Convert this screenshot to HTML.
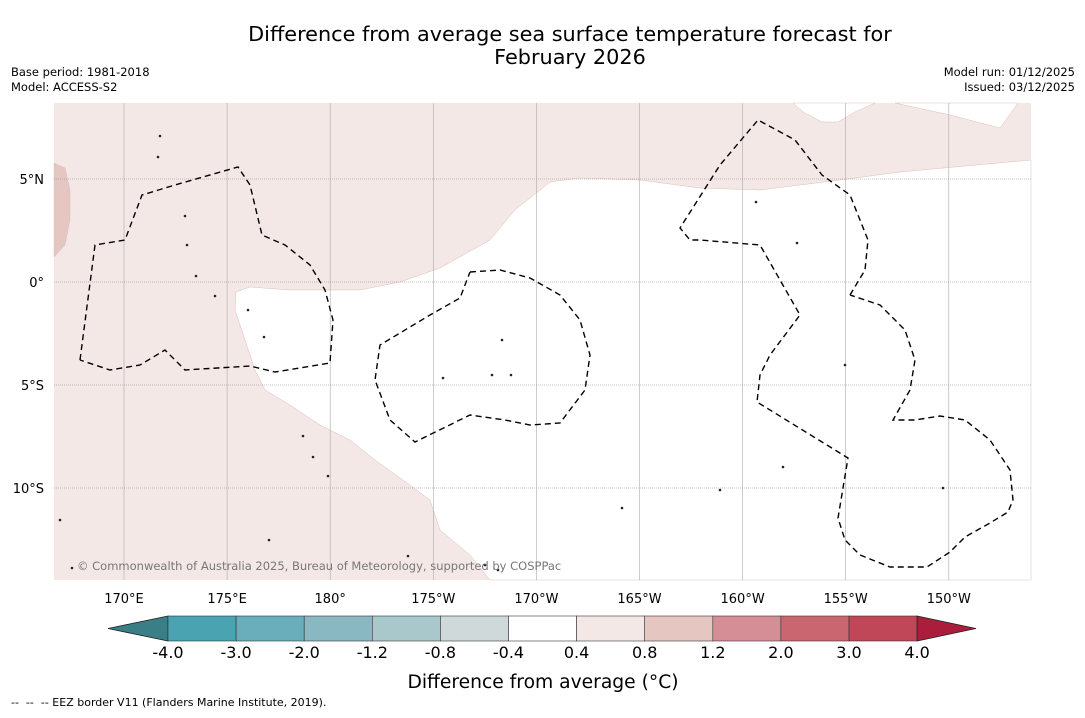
<!DOCTYPE html>
<html><head><meta charset="utf-8"><style>
body{margin:0;background:#fff;font-family:"Liberation Sans","DejaVu Sans",sans-serif}
svg text{font-family:"DejaVu Sans","Liberation Sans",sans-serif}
</style></head><body>
<svg id="s" width="1085" height="713" viewBox="0 0 1085 713">
<text x="570" y="41" font-size="20.8" text-anchor="middle">Difference from average sea surface temperature forecast for</text>
<text x="570" y="64" font-size="20.8" text-anchor="middle">February 2026</text>
<text x="11" y="76" font-size="11.5">Base period: 1981-2018</text>
<text x="11" y="91" font-size="11.5">Model: ACCESS-S2</text>
<text x="1075" y="76" font-size="11.5" text-anchor="end">Model run: 01/12/2025</text>
<text x="1075" y="91" font-size="11.5" text-anchor="end">Issued: 03/12/2025</text>
<g id="map"></g>
<g id="cbar"></g>
<text x="543" y="688" font-size="18.7" text-anchor="middle">Difference from average (°C)</text>
<text x="11" y="706" font-size="11" xml:space="preserve">--  --  -- EEZ border V11 (Flanders Marine Institute, 2019).</text>
</svg>
<script>
const lonTicks=[170,175,180,185,190,195,200,205,210];
const lonLabels=["170°E","175°E","180°","175°W","170°W","165°W","160°W","155°W","150°W"];
const latTicks=[5,0,-5,-10];
const latLabels=["5°N","0°","5°S","10°S"];
const cbBounds=[-4,-3,-2,-1.2,-0.8,-0.4,0.4,0.8,1.2,2,3,4];
const cbColors=["#4aa3b1","#6aaebb","#8ab8c2","#a9c8cc","#d0d9da","#ffffff","#f4e8e6","#e6c6c1","#d68e96","#c9666f","#bf4757"];
const cbUnder="#3a7f86", cbOver="#aa1e3c";
const X0=54,X1=1031,Y0=103,Y1=580;
const px=lon=>124+(lon-170)*20.62;
const py=lat=>282-lat*20.6;
const ilon=x=>170+(x-124)/20.62, ilat=y=>(282-y)/20.6;
function P(pts){return pts.map(p=>[ilon(p[0]),ilat(p[1])]);}
const whiteRegion=P([[236,292],[250,287],[290,290],[360,290],[400,282],[440,268],[490,240],[515,210],[550,182],[580,178],[640,180],[700,188],[760,190],[800,185],[840,180],[900,172],[1031,160],[1031,580],[490,580],[470,555],[440,530],[430,500],[410,485],[375,460],[350,440],[320,425],[290,405],[265,390],[255,370],[245,340],[235,310]]);
const whiteTop=P([[793,103],[803,112],[822,122],[838,122],[855,112],[875,103]]);
const whiteTop2=P([[895,103],[950,115],[1000,128],[1018,103]]);
const darkPatch=P([[54,163],[65,168],[70,190],[70,220],[65,245],[54,257]]);
const eez=[
P([[80,360],[95,245],[125,240],[142,195],[175,185],[238,167],[250,185],[262,235],[285,245],[310,265],[325,290],[333,320],[330,363],[275,372],[250,366],[185,370],[165,350],[140,365],[110,370],[80,360]]),
P([[470,272],[500,270],[530,278],[560,295],[580,320],[590,355],[585,390],[560,423],[530,425],[505,420],[470,415],[415,442],[390,420],[375,380],[380,345],[430,315],[460,298],[470,272]]),
P([[850,295],[865,270],[868,240],[850,195],[822,175],[795,140],[758,120],[720,165],[680,228],[690,240],[700,240],[760,245],[800,315],[770,355],[760,375],[757,402],[848,458],[838,518],[845,540],[860,555],[890,567],[927,567],[950,552],[965,537],[990,523],[1008,512],[1013,500],[1010,470],[990,440],[965,420],[940,416],[915,420],[893,420],[910,390],[915,360],[905,330],[880,305],[850,295]])];
const islands=P([[160,136],[158,157],[185,216],[187,245],[196,276],[215,296],[248,310],[264,337],[303,436],[313,457],[328,476],[443,378],[492,375],[502,340],[511,375],[485,565],[498,570],[622,508],[720,490],[756,202],[797,243],[783,467],[845,365],[943,488],[60,520],[72,568],[269,540],[408,556]]);
const NS="http://www.w3.org/2000/svg";
function mk(t,a,p){const e=document.createElementNS(NS,t);for(const k in a)e.setAttribute(k,a[k]);p.appendChild(e);return e;}
const map=document.getElementById('map');
const pathOf=(pts,close)=>'M'+pts.map(p=>px(p[0]).toFixed(1)+','+py(p[1]).toFixed(1)).join('L')+(close?'Z':'');
let bg=mk('rect',{x:X0,y:Y0,width:X1-X0,height:Y1-Y0,fill:'#f4e8e6'},map);


[[whiteRegion,'#ffffff','neutral-region'],[whiteTop,'#ffffff','neutral-region-north'],[whiteTop2,'#ffffff','neutral-region-northeast'],[darkPatch,'#e6c6c1','anomaly-0.8-1.2-region']].forEach(r=>{
 const e=mk('path',{d:pathOf(r[0],true),fill:r[1],stroke:'#d8c0bc','stroke-width':0.5},map);
 
 
});
lonTicks.forEach((l,i)=>{
 const g=mk('line',{x1:px(l),x2:px(l),y1:Y0,y2:Y1,stroke:'#aaa','stroke-width':0.6},map);
 
 
 const t=mk('text',{x:px(l),y:603,'font-size':13,'text-anchor':'middle'},map);t.textContent=lonLabels[i];
 
 
});
latTicks.forEach((l,i)=>{
 const g=mk('line',{x1:X0,x2:X1,y1:py(l),y2:py(l),stroke:'#888','stroke-width':0.6,'stroke-dasharray':'1,1'},map);
 
 
 const t=mk('text',{x:44,y:py(l)+5,'font-size':13,'text-anchor':'end'},map);t.textContent=latLabels[i];
 
 
});
eez.forEach(p=>{
 const e=mk('path',{d:pathOf(p,false),fill:'none',stroke:'#000','stroke-width':1.4,'stroke-dasharray':'6,4'},map);
 
 
});
islands.forEach(p=>{
 const e=mk('circle',{cx:px(p[0]),cy:py(p[1]),r:1.3,fill:'#222'},map);
 
 
});
const cp=mk('text',{x:77,y:570,'font-size':11.5,fill:'#777'},map);cp.textContent='© Commonwealth of Australia 2025, Bureau of Meteorology, supported by COSPPac';


const cb=document.getElementById('cbar');
const cx0=168,cstep=68.1,cy0=616,ch=25;
const cbx=i=>cx0+i*cstep;
const u=mk('polygon',{points:`${cbx(0)},${cy0} 108,${cy0+ch/2} ${cbx(0)},${cy0+ch}`,fill:cbUnder,stroke:'#222','stroke-width':0.8},cb);


cbColors.forEach((c,i)=>{
 const r=mk('rect',{x:cbx(i),y:cy0,width:cstep,height:ch,fill:c,stroke:'#333','stroke-width':0.6},cb);
 
 
});
const n=cbBounds.length-1;
const o=mk('polygon',{points:`${cbx(n)},${cy0} 976,${cy0+ch/2} ${cbx(n)},${cy0+ch}`,fill:cbOver,stroke:'#222','stroke-width':0.8},cb);


cbBounds.forEach((b,i)=>{
 const t=mk('text',{x:cbx(i),y:658,'font-size':16,'text-anchor':'middle'},cb);t.textContent=b.toFixed(1);
 
 
});
</script>
</body></html>
